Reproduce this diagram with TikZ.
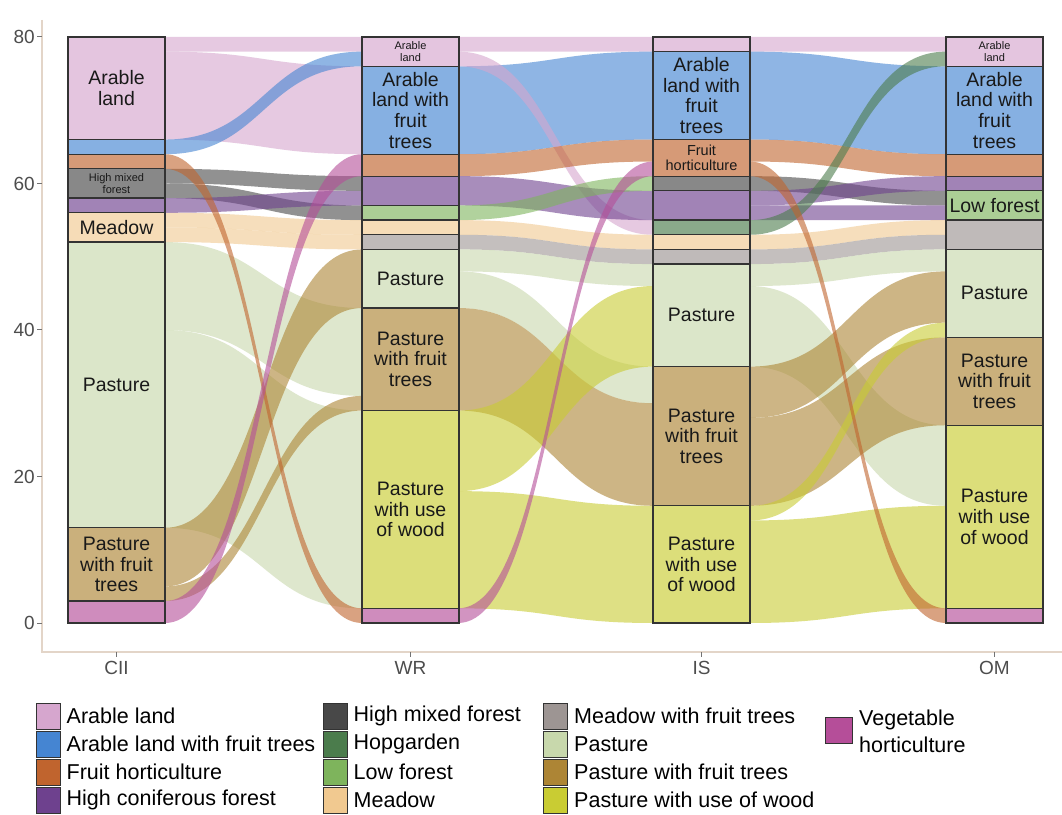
\documentclass[tikz,border=0pt]{standalone}
\usepackage{fontspec}
\setmainfont{Liberation Sans}
\definecolor{cAR}{HTML}{D6A6CE}
\definecolor{cAFT}{HTML}{4585D2}
\definecolor{cFH}{HTML}{C0642E}
\definecolor{cHCF}{HTML}{6E418E}
\definecolor{cHMF}{HTML}{484848}
\definecolor{cHOP}{HTML}{4B7C4C}
\definecolor{cLF}{HTML}{7EB45C}
\definecolor{cMEA}{HTML}{F1C990}
\definecolor{cMWF}{HTML}{9D9593}
\definecolor{cPAS}{HTML}{C8D8AC}
\definecolor{cPWF}{HTML}{AD8535}
\definecolor{cPWW}{HTML}{C9CC33}
\definecolor{cVEG}{HTML}{B54E99}
\definecolor{axiscol}{HTML}{E3D5C8}
\definecolor{ticktext}{HTML}{4D4D4D}
\newcommand{\labfont}{\fontsize{19.5}{20.8}\selectfont}
\newcommand{\smallfont}{\fontsize{11}{11.5}\selectfont}
\newcommand{\midfont}{\fontsize{14.5}{15}\selectfont}
\newcommand{\legfont}{\fontsize{21.5}{26.5}\selectfont}
\newcommand{\axfont}{\fontsize{19}{20}\selectfont}
\tikzset{
  stratumbox/.style={draw=black!80, line width=1.3pt, inner sep=0pt, minimum width=97pt,
    align=center, text=black!90, font=\labfont},
  flowband/.style={fill opacity=0.6, draw=none},
  legbox/.style={draw=black!80, line width=1pt, inner sep=0pt, minimum width=24pt, minimum height=26pt},
  legtext/.style={anchor=west, inner sep=0pt, font=\legfont, align=left},
  axisline/.style={draw=axiscol, line width=1.5pt},
  tickline/.style={draw=black!55, line width=1pt},
  ticklabel/.style={font=\axfont, text=ticktext, inner sep=0pt}
}
% name, colour, x-left, top, bottom, text, extra style
\newcommand{\stratum}[7]{%
  \node[stratumbox, fill=#2!65!white, minimum height={(#4-#5)*7.325pt}, #7] (#1) at ({#3+48.5},{(#4+#5)/2}) {#6};}
% colour, xL, xR, topL, botL, topR, botR
\newcommand{\alflow}[7]{%
  \pgfmathsetmacro{\xm}{(#2+#3)/2}%
  \fill[flowband, #1] (#2,#4) .. controls (\xm,#4) and (\xm,#6) .. (#3,#6) -- (#3,#7) .. controls (\xm,#7) and (\xm,#5) .. (#2,#5) -- cycle;}
\begin{document}
\begin{tikzpicture}[x=1pt,y=1pt]
\useasboundingbox (0,0) rectangle (1062,814);
\fill[white] (0,0) rectangle (1062,814);
% axes
\draw[axisline] (42,794) -- (42,162) -- (1062,162);
\begin{scope}[shift={(0,191)}, yscale=7.325]
  \foreach \v in {0,20,40,60,80}{
    \draw[tickline] (37,\v) -- (42,\v);
    \node[ticklabel, anchor=east] (yt\v) at (35,\v) {\v};
  }
  % ---------- flows CII -> WR
  \alflow{cPAS}{165}{362}{52}{40}{43}{31}
  \alflow{cPAS}{165}{362}{40}{13}{29}{2}
  \alflow{cAR}{165}{362}{80}{78}{80}{78}
  \alflow{cAR}{165}{362}{78}{66}{76}{64}
  \alflow{cAFT}{165}{362}{66}{64}{78}{76}
  \alflow{cHMF}{165}{362}{62}{60}{61}{59}
  \alflow{cHMF}{165}{362}{60}{58}{57}{55}
  \alflow{cHCF}{165}{362}{58}{56}{59}{57}
  \alflow{cMEA}{165}{362}{56}{54}{55}{53}
  \alflow{cMEA}{165}{362}{54}{52}{53}{51}
  \alflow{cPWF}{165}{362}{13}{5}{51}{43}
  \alflow{cPWF}{165}{362}{5}{3}{31}{29}
  \alflow{cFH}{165}{362}{64}{62}{2}{0}
  \alflow{cVEG}{165}{362}{3}{0}{64}{61}
  % ---------- flows WR -> IS
  \alflow{cAR}{458}{653}{80}{78}{80}{78}
  \alflow{cAFT}{458}{653}{76}{64}{78}{66}
  \alflow{cAR}{458}{653}{78}{76}{55}{53}
  \alflow{cFH}{458}{653}{64}{61}{66}{63}
  \alflow{cHCF}{458}{653}{61}{57}{59}{55}
  \alflow{cLF}{458}{653}{57}{55}{61}{59}
  \alflow{cMEA}{458}{653}{55}{53}{53}{51}
  \alflow{cMWF}{458}{653}{53}{51}{51}{49}
  \alflow{cPAS}{458}{653}{51}{48}{49}{46}
  \alflow{cPAS}{458}{653}{48}{43}{35}{30}
  \alflow{cPWF}{458}{653}{43}{29}{30}{16}
  \alflow{cPWW}{458}{653}{29}{18}{46}{35}
  \alflow{cPWW}{458}{653}{18}{2}{16}{0}
  \alflow{cVEG}{458}{653}{2}{0}{63}{61}
  % ---------- flows IS -> OM
  \alflow{cAR}{750}{946}{80}{78}{80}{78}
  \alflow{cAFT}{750}{946}{78}{66}{76}{64}
  \alflow{cFH}{750}{946}{66}{63}{64}{61}
  \alflow{cHMF}{750}{946}{61}{59}{59}{57}
  \alflow{cHCF}{750}{946}{59}{57}{61}{59}
  \alflow{cHCF}{750}{946}{57}{55}{57}{55}
  \alflow{cMEA}{750}{946}{53}{51}{55}{53}
  \alflow{cMWF}{750}{946}{51}{49}{53}{51}
  \alflow{cPAS}{750}{946}{49}{46}{51}{48}
  \alflow{cPAS}{750}{946}{46}{35}{27}{16}
  \alflow{cPWF}{750}{946}{35}{28}{48}{41}
  \alflow{cPWF}{750}{946}{28}{16}{39}{27}
  \alflow{cPWW}{750}{946}{16}{14}{41}{39}
  \alflow{cPWW}{750}{946}{14}{0}{16}{2}
  \alflow{cHOP}{750}{946}{55}{53}{78}{76}
  \alflow{cFH}{750}{946}{63}{61}{2}{0}
  % ---------- strata CII
  \stratum{CII-AR}{cAR}{68}{80}{66}{Arable\\land}{}
  \stratum{CII-AFT}{cAFT}{68}{66}{64}{}{}
  \stratum{CII-FH}{cFH}{68}{64}{62}{}{}
  \stratum{CII-HMF}{cHMF}{68}{62}{58}{High mixed\\forest}{font=\smallfont}
  \stratum{CII-HCF}{cHCF}{68}{58}{56}{}{}
  \stratum{CII-MEA}{cMEA}{68}{56}{52}{Meadow}{}
  \stratum{CII-PAS}{cPAS}{68}{52}{13}{Pasture}{}
  \stratum{CII-PWF}{cPWF}{68}{13}{3}{Pasture\\with fruit\\trees}{}
  \stratum{CII-VEG}{cVEG}{68}{3}{0}{}{}
  % ---------- strata WR
  \stratum{WR-AR}{cAR}{362}{80}{76}{Arable\\land}{font=\smallfont}
  \stratum{WR-AFT}{cAFT}{362}{76}{64}{Arable\\land with\\fruit\\trees}{}
  \stratum{WR-FH}{cFH}{362}{64}{61}{}{}
  \stratum{WR-HCF}{cHCF}{362}{61}{57}{}{}
  \stratum{WR-LF}{cLF}{362}{57}{55}{}{}
  \stratum{WR-MEA}{cMEA}{362}{55}{53}{}{}
  \stratum{WR-MWF}{cMWF}{362}{53}{51}{}{}
  \stratum{WR-PAS}{cPAS}{362}{51}{43}{Pasture}{}
  \stratum{WR-PWF}{cPWF}{362}{43}{29}{Pasture\\with fruit\\trees}{}
  \stratum{WR-PWW}{cPWW}{362}{29}{2}{Pasture\\with use\\of wood}{}
  \stratum{WR-VEG}{cVEG}{362}{2}{0}{}{}
  % ---------- strata IS
  \stratum{IS-AR}{cAR}{653}{80}{78}{}{}
  \stratum{IS-AFT}{cAFT}{653}{78}{66}{Arable\\land with\\fruit\\trees}{}
  \stratum{IS-FH}{cFH}{653}{66}{61}{Fruit\\horticulture}{font=\midfont}
  \stratum{IS-HMF}{cHMF}{653}{61}{59}{}{}
  \stratum{IS-HCF}{cHCF}{653}{59}{55}{}{}
  \stratum{IS-HOP}{cHOP}{653}{55}{53}{}{}
  \stratum{IS-MEA}{cMEA}{653}{53}{51}{}{}
  \stratum{IS-MWF}{cMWF}{653}{51}{49}{}{}
  \stratum{IS-PAS}{cPAS}{653}{49}{35}{Pasture}{}
  \stratum{IS-PWF}{cPWF}{653}{35}{16}{Pasture\\with fruit\\trees}{}
  \stratum{IS-PWW}{cPWW}{653}{16}{0}{Pasture\\with use\\of wood}{}
  % ---------- strata OM
  \stratum{OM-AR}{cAR}{946}{80}{76}{Arable\\land}{font=\smallfont}
  \stratum{OM-AFT}{cAFT}{946}{76}{64}{Arable\\land with\\fruit\\trees}{}
  \stratum{OM-FH}{cFH}{946}{64}{61}{}{}
  \stratum{OM-HCF}{cHCF}{946}{61}{59}{}{}
  \stratum{OM-LF}{cLF}{946}{59}{55}{Low forest}{}
  \stratum{OM-MWF}{cMWF}{946}{55}{51}{}{}
  \stratum{OM-PAS}{cPAS}{946}{51}{39}{Pasture}{}
  \stratum{OM-PWF}{cPWF}{946}{39}{27}{Pasture\\with fruit\\trees}{}
  \stratum{OM-PWW}{cPWW}{946}{27}{2}{Pasture\\with use\\of wood}{}
  \stratum{OM-VEG}{cVEG}{946}{2}{0}{}{}
\end{scope}
% x axis ticks and labels
\foreach \x/\t in {116.5/CII, 410.5/WR, 701.5/IS, 994.5/OM}{
  \draw[tickline] (\x,162) -- (\x,157);
  \node[ticklabel] (xt\t) at (\x,146) {\t};
}
% legend
\foreach \n/\c/\x/\y/\t in {
  l1/cAR/48/98/Arable land, l2/cAFT/48/70/Arable land with fruit trees,
  l3/cFH/48/42/Fruit horticulture, l4/cHCF/48/14/High coniferous forest,
  l5/cHMF/335/98/High mixed forest, l6/cHOP/335/70/Hopgarden,
  l7/cLF/335/42/Low forest, l8/cMEA/335/14/Meadow,
  l9/cMWF/555.5/98/Meadow with fruit trees, l10/cPAS/555.5/70/Pasture,
  l11/cPWF/555.5/42/Pasture with fruit trees, l12/cPWW/555.5/14/Pasture with use of wood}{
  \node[legbox, fill=\c] (\n) at (\x,\y) {};
  \node[legtext] (\n t) at ([xshift=6pt]\n.east) {\t};
}
\node[legbox, fill=cVEG, minimum width=27pt] (l13) at (838.5,84) {};
\node[legtext] (l13t) at (859,82.5) {Vegetable\\horticulture};
\end{tikzpicture}
\end{document}
